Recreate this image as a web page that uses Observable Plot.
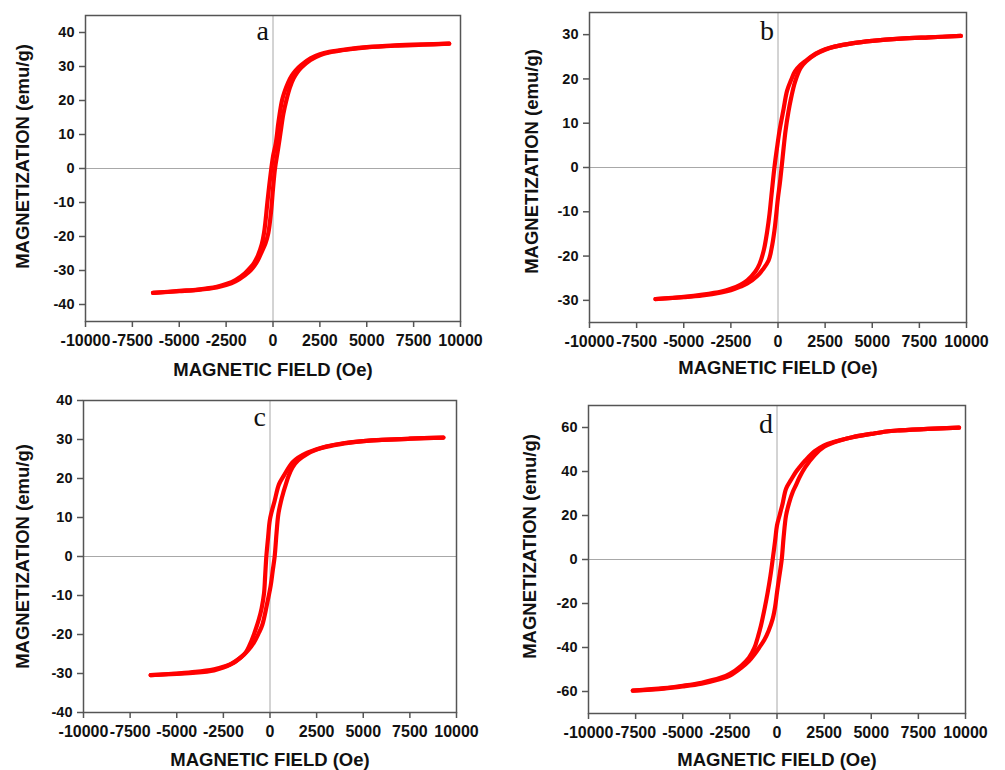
<!DOCTYPE html>
<html>
<head>
<meta charset="utf-8">
<script src="https://cdn.jsdelivr.net/npm/d3@7"></script>
<script src="https://cdn.jsdelivr.net/npm/@observablehq/plot@0.6"></script>
<style>
  html, body { margin: 0; padding: 0; background: #fff; }
  #wrap { position: relative; width: 1005px; height: 770px; overflow: hidden; background: #fff; }
  .panel { position: absolute; }
</style>
</head>
<body>
<div id="wrap"></div>
<script>
// ---- shared tick labels ----
const xTicks = [-10000, -7500, -5000, -2500, 0, 2500, 5000, 7500, 10000];
const xTitle = "MAGNETIC FIELD (Oe)";
const yTitle = "MAGNETIZATION (emu/g)";
const panelLabels = ["a", "b", "c", "d"];

// ---- panel a ----
const aTicksY = [-40, -30, -20, -10, 0, 10, 20, 30, 40];
const aDownH = [9400, 8000, 6500, 5000, 4000, 3000, 2500, 2000, 1500, 1200, 1000, 800, 600, 480, 300, 150, 0, -90, -200, -300, -400, -480, -600, -800, -1000, -1200, -1500, -2000, -2500, -3000, -4000, -5000, -6400];
const aDownM = [36.7, 36.5, 36.2, 35.7, 35.1, 34.3, 33.6, 32.4, 30.4, 28.8, 27.3, 25.2, 22.3, 20, 14, 7.5, 3.5, 0, -5, -10, -15.5, -19, -22.3, -25.5, -27.7, -29.1, -30.8, -32.8, -34.0, -34.8, -35.6, -36.0, -36.6];
const aUpH = [-6400, -5000, -4000, -3000, -2500, -2000, -1500, -1200, -1000, -800, -600, -400, -250, -100, 0, 107, 250, 400, 550, 710, 900, 1100, 1300, 1500, 2000, 2500, 3000, 4000, 5000, 6500, 8000, 9400];
const aUpM = [-36.6, -36.1, -35.7, -35.0, -34.3, -33.2, -31.4, -30.0, -28.7, -26.9, -24.5, -22.0, -19, -12.5, -6, 0, 5, 10.5, 16, 20, 23.8, 26.5, 28.3, 29.6, 31.9, 33.3, 34.1, 35.0, 35.6, 36.1, 36.4, 36.7];

// ---- panel b ----
const bTicksY = [-30, -20, -10, 0, 10, 20, 30];
const bDownH = [9700, 8000, 6500, 5000, 4000, 3000, 2500, 2000, 1500, 1200, 900, 700, 480, 300, 80, -50, -190, -360, -450, -570, -750, -980, -1200, -1630, -2000, -2500, -3000, -4000, -5000, -6500];
const bDownM = [29.7, 29.4, 29.1, 28.6, 28.1, 27.3, 26.7, 25.7, 24.2, 23.2, 21.7, 19.8, 17.3, 13.3, 8.3, 4.5, 0, -6.8, -10.5, -14.3, -18.6, -21.8, -23.5, -25.5, -26.5, -27.4, -28.0, -28.7, -29.2, -29.7];
const bUpH = [-6500, -5000, -4000, -3000, -2500, -2000, -1630, -1100, -800, -500, -350, -190, 0, 100, 190, 300, 400, 550, 700, 900, 1200, 1500, 2000, 2500, 3000, 4000, 5000, 6500, 8000, 9700];
const bUpM = [-29.7, -29.3, -28.9, -28.2, -27.7, -26.9, -26.2, -24.5, -23.0, -21.0, -18.5, -14.3, -6.8, -3.5, 0, 4.5, 8.3, 12.5, 15.8, 19.3, 22.5, 24.0, 25.6, 26.6, 27.3, 28.1, 28.6, 29.1, 29.4, 29.7];

// ---- panel c ----
const cTicksY = [-40, -30, -20, -10, 0, 10, 20, 30, 40];
const cDownH = [9300, 7500, 6000, 5000, 4000, 3000, 2500, 2000, 1500, 1200, 1000, 750, 480, 250, 0, -100, -196, -260, -321, -450, -590, -857, -1100, -1300, -1600, -1930, -2500, -3000, -4000, -5000, -6400];
const cDownM = [30.5, 30.2, 29.9, 29.6, 29.1, 28.2, 27.5, 26.6, 25.3, 24.1, 22.8, 20.8, 18.5, 14.3, 9.6, 5, 0, -5, -9.5, -13.3, -16, -19.9, -22.8, -24.6, -26.0, -27.2, -28.3, -28.9, -29.6, -30.0, -30.4];
const cUpH = [-6400, -5000, -4000, -3000, -2500, -2100, -1570, -1200, -857, -600, -410, -143, 36, 150, 250, 350, 446, 580, 714, 860, 1000, 1200, 1500, 2000, 2500, 3000, 4000, 5000, 6000, 7500, 9300];
const cUpM = [-30.4, -30.1, -29.8, -29.2, -28.5, -27.6, -25.9, -24.2, -22, -19.6, -17.5, -11.8, -7.5, -3.5, 0, 6, 10.8, 14, 16.4, 18.7, 20.7, 22.8, 24.6, 26.3, 27.4, 28.1, 29.0, 29.6, 29.9, 30.2, 30.5];

// ---- panel d ----
const dTicksY = [-60, -40, -20, 0, 20, 40, 60];
const dDownH = [9660, 8000, 6500, 5800, 5000, 4000, 3000, 2500, 2000, 1500, 1200, 1000, 750, 480, 300, 150, 0, -100, -230, -350, -495, -650, -850, -1000, -1200, -1500, -1900, -2500, -3000, -4000, -5000, -6000, -7650];
const dDownM = [59.9, 59.4, 58.7, 58.2, 57.1, 55.6, 53.4, 51.9, 49.2, 45.0, 42.0, 39.8, 36.3, 32.2, 25.5, 20.5, 15.5, 8.5, 0, -7.5, -15, -22, -30, -34.8, -40.2, -44.8, -48.3, -52.0, -53.8, -56.0, -57.4, -58.5, -59.6];
const dUpH = [-7650, -6000, -5000, -4000, -3000, -2500, -1900, -1500, -1200, -900, -670, -450, -230, -100, 0, 100, 250, 350, 480, 650, 830, 1000, 1200, 1500, 2000, 2500, 3000, 4000, 5000, 5800, 6500, 8000, 9660];
const dUpM = [-59.6, -58.7, -57.7, -56.4, -54.3, -52.8, -49.3, -46.3, -43.2, -39.5, -36.5, -32.5, -27, -21.5, -15, -9, 0, 10, 20, 26, 30.6, 33.7, 37.5, 42, 47.5, 51.2, 53.2, 55.6, 57.1, 58.2, 58.7, 59.4, 59.9];

function rows(H, M, branch) {
  return H.map((h, i) => ({H: h, M: M[i], branch}));
}

const panels = [
  {label: panelLabels[0], left: 0, top: 0, width: 500, height: 385,
   m: [15, 40, 64, 85], yDomain: [-45, 45], yTicks: aTicksY,
   down: [aDownH, aDownM], up: [aUpH, aUpM], yTitleDx: -57, yTitleDy: -12, xTitleDy: 54, lblDy: 24},
  {label: panelLabels[1], left: 500, top: 0, width: 505, height: 385,
   m: [12, 39, 63, 89], yDomain: [-35, 35], yTicks: bTicksY,
   down: [bDownH, bDownM], up: [bUpH, bUpM], yTitleDx: -52, yTitleDy: -6, xTitleDy: 51, lblDy: 27},
  {label: panelLabels[2], left: 0, top: 385, width: 500, height: 385,
   m: [15, 44, 58, 83], yDomain: [-40, 40], yTicks: cTicksY,
   down: [cDownH, cDownM], up: [cUpH, cUpM], yTitleDx: -55, yTitleDy: 0, xTitleDy: 53, lblDy: 25},
  {label: panelLabels[3], left: 500, top: 385, width: 505, height: 385,
   m: [20, 40, 57, 88], yDomain: [-70, 70], yTicks: dTicksY,
   down: [dDownH, dDownM], up: [dUpH, dUpM], yTitleDx: -53, yTitleDy: -13, xTitleDy: 52, lblDy: 27}
];

const wrap = document.getElementById("wrap");
const fmt = d => String(d);

for (const p of panels) {
  const data = rows(p.down[0], p.down[1], "down").concat(rows(p.up[0], p.up[1], "up"));
  const chart = Plot.plot({
    width: p.width,
    height: p.height,
    marginTop: p.m[0], marginRight: p.m[1], marginBottom: p.m[2], marginLeft: p.m[3],
    style: {fontFamily: "'Liberation Sans', Arial, sans-serif", fontWeight: "bold", color: "#111", background: "white", overflow: "visible"},
    x: {domain: [-10000, 10000]},
    y: {domain: p.yDomain},
    marks: [
      Plot.ruleX([0], {stroke: "#a8a8a8", strokeWidth: 1}),
      Plot.ruleY([0], {stroke: "#a8a8a8", strokeWidth: 1}),
      Plot.line(data, {x: "H", y: "M", z: "branch", stroke: "#ff0000", strokeWidth: 4.2, curve: "catmull-rom"}),
      Plot.frame({stroke: "#555", strokeWidth: 1.5}),
      Plot.axisX(xTicks, {anchor: "bottom", tickSize: 6, tickPadding: 7, tickFormat: fmt, fontSize: 16, label: null, stroke: "#555", strokeWidth: 1.5}),
      Plot.axisY(p.yTicks, {anchor: "left", tickSize: 6, tickPadding: 5, tickFormat: fmt, fontSize: 14.5, label: null, stroke: "#555", strokeWidth: 1.5}),
      Plot.text([xTitle], {text: d => d, frameAnchor: "bottom", textAnchor: "middle", lineAnchor: "bottom", dy: p.xTitleDy, fontSize: 18.5, fontWeight: "bold", fill: "#111"}),
      Plot.text([yTitle], {text: d => d, frameAnchor: "left", textAnchor: "middle", rotate: -90, lineAnchor: "bottom", dx: p.yTitleDx, dy: p.yTitleDy, fontSize: 18.5, fontWeight: "bold", fill: "#111"}),
      Plot.text([p.label], {text: d => d, x: 0, frameAnchor: "top", textAnchor: "end", lineAnchor: "bottom", dx: -4, dy: p.lblDy, fontFamily: "'Liberation Serif', 'Times New Roman', serif", fontWeight: "normal", fontSize: 28, fill: "#111"})
    ]
  });
  chart.classList.add("panel");
  chart.style.left = p.left + "px";
  chart.style.top = p.top + "px";
  wrap.appendChild(chart);
}
</script>
</body>
</html>
